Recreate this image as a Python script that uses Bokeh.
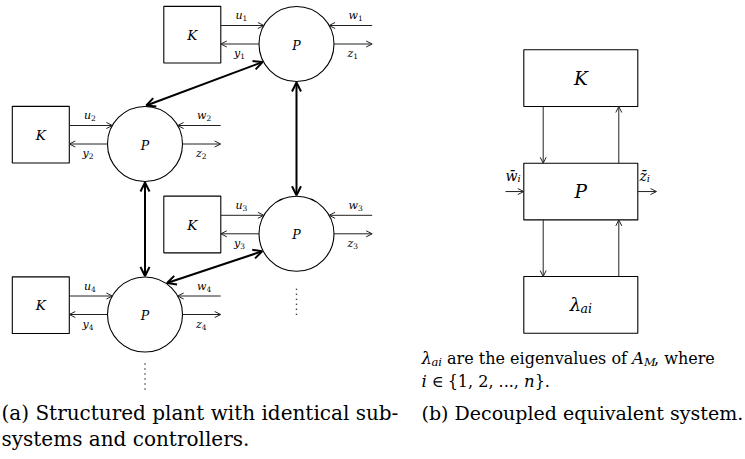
import math
from bokeh.plotting import figure
from bokeh.models import Range1d, Arrow, OpenHead
from bokeh.core.properties import value
from bokeh.embed import file_html
from bokeh.resources import INLINE

# ---------------- data (diagram content) ----------------
FONT = "DejaVu Serif"

# (a) structured plant: subsystem circle centres
node_x = [296.0, 144.5, 296.0, 144.5]
node_y = [43.5, 143.5, 233.3, 314.0]
node_r = 37.5
sub_ids = ["1", "2", "3", "4"]
plant_label = "P"
ctrl_label = "K"
in_ctrl, out_ctrl, in_dist, out_perf = "u", "y", "w", "z"
# couplings between subsystems: (node, anchor angle, node, anchor angle)
links = [(0, 208, 1, 88), (0, 270, 2, 90), (1, 270, 3, 90), (2, 207, 3, 55)]
# nodes continued with dots below
cont_nodes = [2, 3]
cont_gap = [55.0, 49.0]

# (b) decoupled system blocks
blk_labels = ["K", "P", "λ"]
blk_sub = ["", "", "ai"]
blk_x0, blk_x1 = 523.3, 637.3
blk_top = [49.3, 162.7, 276.0]
blk_h = 56.7
blk_conn_x = [542.7, 618.3]

caption_a = ["(a) Structured plant with identical sub-", "systems and controllers."]
caption_b = "(b) Decoupled equivalent system."

# ---------------- figure ----------------
W, H = 745, 459
p = figure(width=W, height=H, x_range=Range1d(0, W), y_range=Range1d(H, 0),
           output_backend="svg", toolbar_location=None, min_border=0,
           x_axis_location=None, y_axis_location=None)
p.grid.visible = False
p.outline_line_color = None
p.background_fill_color = "white"
p.border_fill_color = "white"

# --------- text helpers (DejaVu Serif metrics, em units) ---------
REG = {' ': .318, '(': .390, ')': .390, ',': .318, '-': .338, '.': .318, '{': .636, '}': .636,
       '1': .636, '2': .636,
       'a': .596, 'b': .640, 'c': .560, 'd': .640, 'e': .592, 'f': .370, 'g': .640, 'h': .644,
       'i': .320, 'l': .320, 'm': .948, 'n': .644, 'o': .602, 'p': .640, 'r': .478, 's': .513,
       't': .402, 'u': .644, 'v': .565, 'w': .856, 'y': .565, 'D': .770, 'S': .685, '∈': .671}
ITA = {'a': .596, 'i': .320, 'n': .644, 'A': .722, 'M': .872, 'K': .705, 'P': .675, 'u': .644,
       'y': .565, 'w': .856, 'z': .525, 'λ': .60}


def tw(s, size, italic):
    tab = ITA if italic else REG
    return sum(tab.get(c, 0.6) for c in s if c != '\u0304') * size


def rich(x, y, segs):
    """segs: list of (text, size, italic, dy). x = left edge, y = middle line.
    Leading/trailing spaces are turned into offsets (SVG collapses them)."""
    cx = x
    for txt, size, ital, dy in segs:
        core = txt.strip(' ')
        lead = len(txt) - len(txt.lstrip(' '))
        if core:
            p.text(x=[cx + lead * REG[' '] * size], y=[y + dy], text=[core], text_font=value(FONT),
                   text_font_size=f"{size}px", text_font_style="italic" if ital else "normal",
                   text_align="left", text_baseline="middle", text_color="black")
        cx += tw(txt, size, ital) if core else len(txt) * REG[' '] * size
    return cx


def arrow(x0, y0, x1, y1, w=1.0, size=6, both=False, color="#222222"):
    p.add_layout(Arrow(x_start=x0, y_start=y0, x_end=x1, y_end=y1,
                       line_width=w, line_color=color,
                       end=OpenHead(size=size, line_width=w, line_color=color),
                       start=OpenHead(size=size, line_width=w, line_color=color) if both else None))


# ---------------- (a) structured plant ----------------
p.circle(x=node_x, y=node_y, radius=node_r, fill_color="white", line_color="black", line_width=1.1)
kx = [x - 104.2 for x in node_x]
ky = [y - 9.3 for y in node_y]
p.rect(x=kx, y=ky, width=57, height=56.7, fill_color="white", line_color="black", line_width=1.1)
p.text(x=kx, y=ky, text=[ctrl_label] * 4, text_font=value(FONT), text_font_size="13.5px",
       text_font_style="italic", text_align="center", text_baseline="middle")
p.text(x=node_x, y=[y + 1 for y in node_y], text=[plant_label] * 4, text_font=value(FONT),
       text_font_size="12.5px", text_font_style="italic", text_align="center", text_baseline="middle")

dy_u = 18.5
dx_u = math.sqrt(node_r ** 2 - dy_u ** 2)
for cx, cy, sid in zip(node_x, node_y, sub_ids):
    arrow(cx - 75.7, cy - dy_u, cx - dx_u, cy - dy_u)
    arrow(cx - node_r, cy, cx - 75.7, cy)
    arrow(cx + 75.7, cy - dy_u, cx + dx_u, cy - dy_u)
    arrow(cx + node_r, cy, cx + 75.7, cy)
    for lab, lx, ly in ((in_ctrl, cx - 61, cy - 28.5), (out_ctrl, cx - 62.5, cy + 9.5),
                        (in_dist, cx + 52, cy - 28.5), (out_perf, cx + 51, cy + 9.5)):
        rich(lx, ly, [(lab, 11, True, 0), (sid, 7.5, False, 2.5)])

for a, aa, b, ab in links:
    ra = node_r + 1.0
    x0 = node_x[a] + ra * math.cos(math.radians(aa))
    y0 = node_y[a] - ra * math.sin(math.radians(aa))
    x1 = node_x[b] + ra * math.cos(math.radians(ab))
    y1 = node_y[b] - ra * math.sin(math.radians(ab))
    arrow(x0, y0, x1, y1, w=2.0, size=9, both=True, color="black")

for n, g in zip(cont_nodes, cont_gap):
    p.line(x=[node_x[n], node_x[n]], y=[node_y[n] + g, node_y[n] + g + 29],
           line_color="black", line_width=1.4, line_dash="1 4")

rich(1, 412.5, [(caption_a[0], 20, False, 0)])
rich(1, 438.5, [(caption_a[1], 20, False, 0)])

# ---------------- (b) decoupled system ----------------
bx = (blk_x0 + blk_x1) / 2
bw = blk_x1 - blk_x0
p.rect(x=[bx] * 3, y=[t + blk_h / 2 for t in blk_top], width=bw, height=blk_h,
       fill_color="white", line_color="black", line_width=1.1)
for lab, sub, t in zip(blk_labels, blk_sub, blk_top):
    ymid = t + blk_h / 2
    if sub:
        wl = tw(lab, 18, True) + tw(sub, 12.5, True)
        rich(bx - wl / 2, ymid, [(lab, 18, True, 0), (sub, 12.5, True, 4)])
    else:
        p.text(x=[bx], y=[ymid], text=[lab], text_font=value(FONT), text_font_size="18.5px",
               text_font_style="italic", text_align="center", text_baseline="middle")

for i in range(2):
    top_b = blk_top[i] + blk_h
    nxt = blk_top[i + 1]
    arrow(blk_conn_x[0], top_b, blk_conn_x[0], nxt)
    arrow(blk_conn_x[1], nxt, blk_conn_x[1], top_b)

ymidP = blk_top[1] + blk_h / 2
arrow(505, ymidP, blk_x0, ymidP)
arrow(blk_x1, ymidP, 656, ymidP)
rich(505, 175, [("w\u0304", 14, True, 0), ("i", 10, True, 3)])
rich(639, 175, [("z\u0304", 14, True, 0), ("i", 10, True, 3)])

rich(421, 357.5, [("λ", 16.5, True, 0), ("ai", 11.5, True, 4), (" are the eigenvalues of ", 16, False, 0),
                  ("A", 16.5, True, 0), ("M", 11.5, True, 4), (", where", 16, False, 0)])
rich(421, 380.5, [("i", 16.5, True, 0), (" ∈ ", 16, False, 0), ("{1, 2, ..., ", 16, False, 0),
                  ("n", 16.5, True, 0), ("}.", 16, False, 0)])
rich(421, 412.5, [(caption_b, 19, False, 0)])

open("out.html", "w").write(file_html(p, INLINE))
